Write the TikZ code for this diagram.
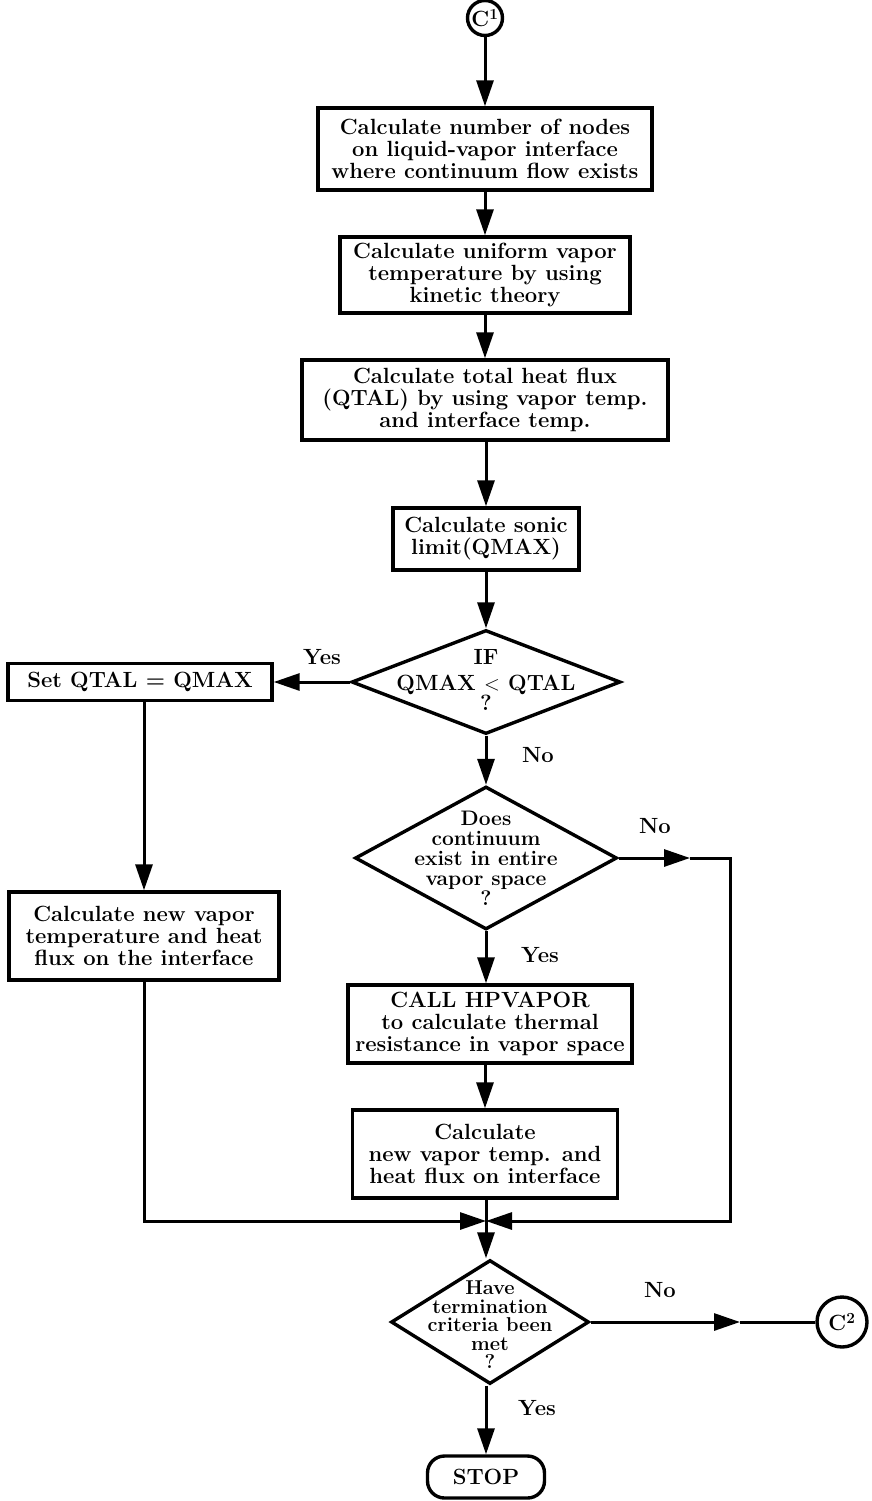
\documentclass[tikz,border=0pt]{standalone}
\usetikzlibrary{arrows.meta,shapes.geometric,calc}
\newcommand\flowtxt{\fontsize{22}{22}\selectfont\bfseries}
\newcommand\diatxt{\fontsize{21}{20}\selectfont\bfseries}
\newcommand\diatxtb{\fontsize{20}{18.5}\selectfont\bfseries}
\begin{document}
\begin{tikzpicture}[x=1pt,y=-1pt,
  box/.style={draw, line width=3.4pt, align=center, inner sep=0pt, font=\flowtxt},
  dia/.style={draw, diamond, line width=3.4pt, inner sep=0pt},
  circ/.style={draw, circle, line width=3.4pt, inner sep=0pt, font=\flowtxt},
  lab/.style={font=\flowtxt},
  tip/.style={-{Triangle[length=26pt,width=17pt]}},
  conn/.style={line width=3pt, tip},
  plain/.style={line width=3pt}]
\useasboundingbox (0,0) rectangle (872,1501);
% nodes
\node[circ, minimum size=35pt] (c1) at (485,18) {C\textsuperscript{1}};
\node[box, minimum width=334pt, minimum height=82pt] (b1) at (485,149)
  {Calculate number of nodes\\on liquid-vapor interface\\where continuum flow exists};
\node[box, minimum width=290pt, minimum height=76pt] (b2) at (485,275)
  {Calculate uniform vapor\\temperature by using\\kinetic theory};
\node[box, minimum width=366pt, minimum height=80pt] (b3) at (485,400)
  {Calculate total heat flux\\(QTAL) by using vapor temp.\\and interface temp.};
\node[box, minimum width=186pt, minimum height=62pt] (b4) at (486,539)
  {Calculate sonic\\limit(QMAX)};
\node[dia, minimum width=269pt, minimum height=104pt,
  label={[font=\flowtxt, align=center, yshift=2pt]center:{IF\\[4pt]QMAX $<$ QTAL\\[-2pt]?}}] (d1) at (486,682) {};
\node[box, minimum width=264pt, minimum height=37pt] (set) at (140,682)
  {Set QTAL = QMAX};
\node[box, minimum width=270pt, minimum height=88pt] (lb) at (144,936)
  {Calculate new vapor\\temperature and heat\\flux on the interface};
\node[dia, minimum width=262pt, minimum height=143pt,
  label={[font=\diatxt, align=center]center:{Does\\continuum\\exist in entire\\vapor space\\?}}] (d2) at (486,858) {};
\node[box, minimum width=284pt, minimum height=78pt] (hp) at (490,1024)
  {CALL HPVAPOR\\to calculate thermal\\resistance in vapor space};
\node[box, minimum width=265pt, minimum height=88pt] (b6) at (485,1154)
  {Calculate\\new vapor temp. and\\heat flux on interface};
\node[dia, minimum width=198pt, minimum height=124pt,
  label={[font=\diatxtb, align=center, yshift=-3pt]center:{Have\\termination\\criteria been\\met\\?}}] (d3) at (490,1322) {};
\node[circ, minimum size=50pt] (c2) at (842,1322) {C\textsuperscript{2}};
\node[draw, line width=3.4pt, rounded corners=17pt, minimum width=117pt, minimum height=42pt, font=\flowtxt, inner sep=0pt] (stop) at (486,1477) {STOP};
% labels
\node[lab] (y1) at (322,657) {Yes};
\node[lab] (n1) at (538,755) {No};
\node[lab] (n2) at (655,826) {No};
\node[lab] (y2) at (540,955) {Yes};
\node[lab] (n3) at (660,1290) {No};
\node[lab] (y3) at (537,1408) {Yes};
% coordinates
\coordinate (J) at (486,1221);
\coordinate (rx) at (730,0);
\coordinate (m2) at (690,858);
\coordinate (m3) at (740,1322);
% connectors
\draw[conn] (c1) -- (b1);
\draw[conn] (b1) -- (b2);
\draw[conn] (b2) -- (b3);
\draw[conn] (b3.south -| b4.north) -- (b4.north);
\draw[conn] (b4) -- (d1.north);
\draw[conn] (d1.west) -- (set.east);
\draw[conn] (set.south -| lb.north) -- (lb.north);
\draw[conn] (d1.south) -- (d2.north);
\draw[conn] (d2.south) -- (hp.north -| d2.south);
\draw[conn] (hp.south -| b6.north) -- (b6.north);
\draw[conn] (d2.east) -- (m2);
\draw[conn] (m2) -- (m2 -| rx) -- (rx |- J) -- (J);
\draw[conn] (lb.south) -- (lb.south |- J) -- (J);
\draw[plain] (b6.south -| J) -- (J);
\draw[conn] (J) -- (d3.north -| J);
\draw[conn] (d3.east) -- (m3);
\draw[plain] (m3) -- (c2.west);
\draw[conn] (d3.south -| J) -- (stop.north -| J);
\end{tikzpicture}
\end{document}
